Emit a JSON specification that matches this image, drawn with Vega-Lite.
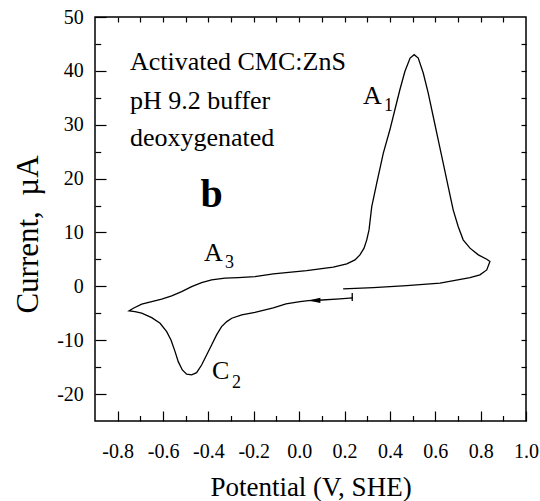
{
  "$schema": "https://vega.github.io/schema/vega-lite/v6.json",
  "width": 431,
  "height": 404,
  "autosize": {"type": "none"},
  "padding": {"left": 95, "top": 17, "right": 14, "bottom": 80},
  "background": "white",
  "config": {
    "view": {"stroke": "black", "strokeWidth": 1.5},
    "font": "Liberation Serif",
    "axis": {
      "labelFont": "Liberation Serif",
      "titleFont": "Liberation Serif",
      "labelFontSize": 20,
      "labelColor": "#000",
      "titleColor": "#000",
      "tickColor": "#000",
      "tickWidth": 1.2,
      "domain": false,
      "grid": false,
      "titleFontWeight": "normal",
      "labelFlush": false,
      "labelOverlap": false,
      "labelBound": false
    },
    "text": {"font": "Liberation Serif", "color": "#000"}
  },
  "datasets": {
    "cv": [
      {"i": 1, "E": 0.234, "I": -1.22},
      {"i": 2, "E": 0.234, "I": -2.71},
      {"i": 3, "E": 0.234, "I": -2.15},
      {"i": 4, "E": 0.180, "I": -2.33},
      {"i": 5, "E": 0.083, "I": -2.58},
      {"i": 6, "E": 0.040, "I": -2.65},
      {"i": 7, "E": 0.004, "I": -2.84},
      {"i": 8, "E": -0.058, "I": -3.26},
      {"i": 9, "E": -0.114, "I": -4.01},
      {"i": 10, "E": -0.195, "I": -4.84},
      {"i": 11, "E": -0.253, "I": -5.31},
      {"i": 12, "E": -0.297, "I": -5.92},
      {"i": 13, "E": -0.319, "I": -6.55},
      {"i": 14, "E": -0.342, "I": -7.48},
      {"i": 15, "E": -0.364, "I": -9.02},
      {"i": 16, "E": -0.386, "I": -10.88},
      {"i": 17, "E": -0.408, "I": -12.74},
      {"i": 18, "E": -0.430, "I": -14.60},
      {"i": 19, "E": -0.452, "I": -16.03},
      {"i": 20, "E": -0.474, "I": -16.45},
      {"i": 21, "E": -0.496, "I": -16.32},
      {"i": 22, "E": -0.515, "I": -15.52},
      {"i": 23, "E": -0.533, "I": -13.98},
      {"i": 24, "E": -0.547, "I": -12.12},
      {"i": 25, "E": -0.565, "I": -9.95},
      {"i": 26, "E": -0.584, "I": -8.41},
      {"i": 27, "E": -0.613, "I": -6.85},
      {"i": 28, "E": -0.650, "I": -5.81},
      {"i": 29, "E": -0.694, "I": -4.99},
      {"i": 30, "E": -0.724, "I": -4.69},
      {"i": 31, "E": -0.750, "I": -4.56},
      {"i": 32, "E": -0.731, "I": -4.06},
      {"i": 33, "E": -0.694, "I": -3.32},
      {"i": 34, "E": -0.650, "I": -2.84},
      {"i": 35, "E": -0.606, "I": -2.39},
      {"i": 36, "E": -0.562, "I": -1.78},
      {"i": 37, "E": -0.518, "I": -0.98},
      {"i": 38, "E": -0.474, "I": -0.05},
      {"i": 39, "E": -0.430, "I": 0.69},
      {"i": 40, "E": -0.386, "I": 1.20},
      {"i": 41, "E": -0.327, "I": 1.51},
      {"i": 42, "E": -0.268, "I": 1.62},
      {"i": 43, "E": -0.195, "I": 1.81},
      {"i": 44, "E": -0.114, "I": 2.31},
      {"i": 45, "E": 0.033, "I": 2.92},
      {"i": 46, "E": 0.150, "I": 3.56},
      {"i": 47, "E": 0.210, "I": 4.17},
      {"i": 48, "E": 0.246, "I": 4.91},
      {"i": 49, "E": 0.268, "I": 5.84},
      {"i": 50, "E": 0.286, "I": 7.09},
      {"i": 51, "E": 0.298, "I": 8.63},
      {"i": 52, "E": 0.308, "I": 10.48},
      {"i": 53, "E": 0.320, "I": 14.81},
      {"i": 54, "E": 0.342, "I": 19.16},
      {"i": 55, "E": 0.371, "I": 24.73},
      {"i": 56, "E": 0.400, "I": 29.06},
      {"i": 57, "E": 0.422, "I": 32.78},
      {"i": 58, "E": 0.444, "I": 36.49},
      {"i": 59, "E": 0.466, "I": 39.89},
      {"i": 60, "E": 0.489, "I": 42.38},
      {"i": 61, "E": 0.507, "I": 43.0},
      {"i": 62, "E": 0.525, "I": 42.38},
      {"i": 63, "E": 0.547, "I": 39.60},
      {"i": 64, "E": 0.569, "I": 35.88},
      {"i": 65, "E": 0.591, "I": 31.53},
      {"i": 66, "E": 0.613, "I": 27.20},
      {"i": 67, "E": 0.635, "I": 22.88},
      {"i": 68, "E": 0.657, "I": 18.53},
      {"i": 69, "E": 0.679, "I": 14.20},
      {"i": 70, "E": 0.701, "I": 11.10},
      {"i": 71, "E": 0.723, "I": 8.63},
      {"i": 72, "E": 0.753, "I": 7.09},
      {"i": 73, "E": 0.790, "I": 5.84},
      {"i": 74, "E": 0.827, "I": 5.04},
      {"i": 75, "E": 0.841, "I": 4.60},
      {"i": 76, "E": 0.827, "I": 3.05},
      {"i": 77, "E": 0.797, "I": 2.13},
      {"i": 78, "E": 0.753, "I": 1.62},
      {"i": 79, "E": 0.723, "I": 1.38},
      {"i": 80, "E": 0.621, "I": 0.58},
      {"i": 81, "E": 0.474, "I": 0.14},
      {"i": 82, "E": 0.327, "I": -0.23},
      {"i": 83, "E": 0.194, "I": -0.48}
    ],
    "labels": [
      {"t": "Activated CMC:ZnS", "E": -0.746, "I": 40.08},
      {"t": "pH 9.2 buffer", "E": -0.746, "I": 32.96},
      {"t": "deoxygenated", "E": -0.746, "I": 26.09},
      {"t": "A", "E": 0.281, "I": 33.89},
      {"t": "A", "E": -0.420, "I": 4.78},
      {"t": "C", "E": -0.384, "I": -17.20}
    ],
    "subs": [
      {"t": "1", "E": 0.374, "I": 32.46},
      {"t": "3", "E": -0.327, "I": 3.42},
      {"t": "2", "E": -0.296, "I": -18.87}
    ],
    "panel": [
      {"t": "b", "E": -0.386, "I": 14.81}
    ],
    "arrow": [
      {"E": 0.067, "I": -2.61}
    ]
  },
  "resolve": {"axis": {"x": "independent", "y": "independent"}},
  "layer": [
    {
      "data": {"name": "cv"},
      "mark": {"type": "line", "color": "black", "strokeWidth": 1.3, "interpolate": "linear"},
      "encoding": {
        "x": {
          "field": "E", "type": "quantitative",
          "scale": {"domain": [-0.9, 1.0], "nice": false, "zero": false},
          "axis": {
            "orient": "bottom",
            "title": "Potential (V, SHE)",
            "values": [-0.8, -0.7, -0.6, -0.5, -0.4, -0.3, -0.2, -0.1, 0, 0.1, 0.2, 0.3, 0.4, 0.5, 0.6, 0.7, 0.8, 0.9, 1.0],
            "labelExpr": "abs(round(datum.value*10)) % 2 == 0 ? replace(format(datum.value, '.1f'), '\u2212', '-') : ''",
            "tickSize": {"condition": {"test": "abs(round(datum.value*10)) % 2 == 0", "value": -10}, "value": -5.5},
            "labelPadding": 30,
            "labelBaseline": "top",
            "labelFont": "Liberation Serif",
            "labelFontSize": 20,
            "titleFont": "Liberation Serif",
            "titleFontSize": 27,
            "titleX": 215.5,
            "titleY": 74,
            "titleBaseline": "alphabetic",
            "titleAlign": "center"
          }
        },
        "y": {
          "field": "I", "type": "quantitative",
          "scale": {"domain": [-25, 50], "nice": false, "zero": false},
          "axis": {
            "orient": "left",
            "title": "Current,\u00a0 µA",
            "values": [-20, -15, -10, -5, 0, 5, 10, 15, 20, 25, 30, 35, 40, 45, 50],
            "labelExpr": "datum.value % 10 == 0 ? '' + datum.value : ''",
            "tickSize": {"condition": {"test": "datum.value % 10 == 0", "value": -11}, "value": -5.7},
            "labelPadding": 22.7,
            "labelAlign": "right",
            "labelBaseline": "middle",
            "labelFont": "Liberation Serif",
            "labelFontSize": 20,
            "titleFont": "Liberation Serif",
            "titleFontSize": 31,
            "titleAngle": 270,
            "titleX": -58,
            "titleY": 217,
            "titleBaseline": "alphabetic",
            "titleAlign": "center"
          }
        },
        "order": {"field": "i", "type": "quantitative"}
      }
    },
    {
      "data": {"name": "cv"},
      "mark": {"type": "point", "opacity": 0},
      "encoding": {
        "x": {
          "field": "E", "type": "quantitative",
          "axis": {
            "orient": "top",
            "values": [-0.8, -0.7, -0.6, -0.5, -0.4, -0.3, -0.2, -0.1, 0, 0.1, 0.2, 0.3, 0.4, 0.5, 0.6, 0.7, 0.8, 0.9],
            "labels": false,
            "tickSize": -5,
            "title": null
          }
        },
        "y": {
          "field": "I", "type": "quantitative",
          "axis": {
            "orient": "right",
            "values": [-20, -15, -10, -5, 0, 5, 10, 15, 20, 25, 30, 35, 40, 45],
            "labels": false,
            "tickSize": -5,
            "title": null
          }
        }
      }
    },
    {
      "data": {"name": "arrow"},
      "mark": {"type": "point", "shape": "M -1 0 L 1 -0.45 L 1 0.45 Z", "size": 144, "filled": true, "color": "black", "opacity": 1, "strokeWidth": 0},
      "encoding": {
        "x": {"field": "E", "type": "quantitative", "axis": null},
        "y": {"field": "I", "type": "quantitative", "axis": null}
      }
    },
    {
      "data": {"name": "labels"},
      "mark": {"type": "text", "fontSize": 26, "align": "left", "baseline": "alphabetic", "color": "black", "font": "Liberation Serif"},
      "encoding": {
        "x": {"field": "E", "type": "quantitative", "axis": null},
        "y": {"field": "I", "type": "quantitative", "axis": null},
        "text": {"field": "t"}
      }
    },
    {
      "data": {"name": "subs"},
      "mark": {"type": "text", "fontSize": 18, "align": "left", "baseline": "alphabetic", "color": "black", "font": "Liberation Serif"},
      "encoding": {
        "x": {"field": "E", "type": "quantitative", "axis": null},
        "y": {"field": "I", "type": "quantitative", "axis": null},
        "text": {"field": "t"}
      }
    },
    {
      "data": {"name": "panel"},
      "mark": {"type": "text", "fontSize": 40, "fontWeight": "bold", "align": "center", "baseline": "alphabetic", "color": "black", "font": "Liberation Serif"},
      "encoding": {
        "x": {"field": "E", "type": "quantitative", "axis": null},
        "y": {"field": "I", "type": "quantitative", "axis": null},
        "text": {"field": "t"}
      }
    }
  ]
}
